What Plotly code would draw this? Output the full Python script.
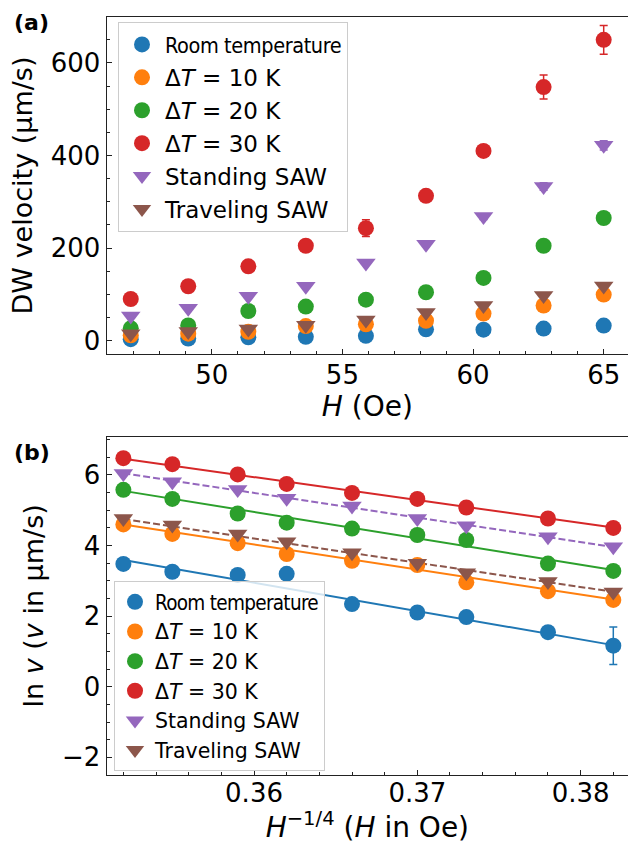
import numpy as np
import plotly.graph_objects as go

# ---------------- data ----------------
H = [46.9, 49.1, 51.4, 53.6, 55.9, 58.2, 60.4, 62.7, 65.0]          # Oe (panel a)
Hinv = [0.382, 0.378, 0.373, 0.370, 0.366, 0.362, 0.359, 0.355, 0.352]  # H^-1/4 (panel b)

COND_FAM = "font-family:'DejaVu Sans Condensed','Liberation Sans Narrow','DejaVu Sans'"
names_a = ["<span style=\"" + COND_FAM + ";font-size:21.5px;letter-spacing:-0.4px\">Room temperature</span>",
           "Δ<i>T</i> = 10 K", "Δ<i>T</i> = 20 K",
           "Δ<i>T</i> = 30 K", "Standing SAW", "Traveling SAW"]
names_b = ["<span style=\"" + COND_FAM + ";letter-spacing:-0.7px\">Room temperature</span>",
           "Δ<i>T</i> = 10 K", "Δ<i>T</i> = 20 K",
           "Δ<i>T</i> = 30 K", "Standing SAW", "Traveling SAW"]

v_room = [3.2, 4.7, 7.2, 8.2, 10.4, 24.5, 23.8, 26.0, 32.5]
v_dt10 = [11.7, 15.0, 19.3, 31.5, 35.5, 43.0, 58.5, 76.0, 99.5]
v_dt20 = [26.6, 32.8, 64.0, 73.7, 88.5, 104.6, 135.5, 205.0, 265.0]
v_dt30 = [90.0, 117.5, 160.5, 205.0, 243.0, 313.0, 410.0, 548.0, 650.0]
v_stand = [53.0, 70.0, 96.0, 117.5, 168.0, 208.5, 268.0, 333.0, 422.0]
v_trav = [14.7, 19.7, 25.3, 33.1, 44.7, 61.0, 76.0, 97.5, 118.0]

e_room = [1.7, 0.3, 0.3, 0.3, 0.4, 0.8, 0.8, 0.8, 1.0]
e_dt10 = [0.5, 0.5, 0.6, 0.8, 1.0, 1.2, 1.5, 2.0, 2.5]
e_dt20 = [1.0, 1.0, 2.0, 2.0, 2.5, 3.0, 4.0, 5.0, 6.0]
e_dt30 = [3.0, 4.0, 5.0, 6.0, 18.0, 8.0, 10.0, 26.0, 31.0]
e_stand = [2.0, 2.0, 3.0, 3.0, 4.0, 5.0, 6.0, 8.0, 10.0]
e_trav = [0.5, 0.6, 0.8, 1.0, 1.2, 1.5, 2.0, 2.5, 3.0]

# linear fits of ln v vs H^-1/4 (values at the two ends)
fit_x = [0.352, 0.382]
fit_room = [3.59, 1.18]
fit_dt10 = [4.60, 2.47]
fit_dt20 = [5.55, 3.31]
fit_dt30 = [6.46, 4.51]
fit_stand = [6.05, 3.96]
fit_trav = [4.75, 2.69]

colors = ["#1f77b4", "#ff7f0e", "#2ca02c", "#d62728", "#9467bd", "#8c564b"]
symbols = ["circle", "circle", "circle", "circle", "triangle-down", "triangle-down"]
dashes = ["solid", "solid", "solid", "solid", "7px,3px", "7px,3px"]

V = [v_room, v_dt10, v_dt20, v_dt30, v_stand, v_trav]
E = [e_room, e_dt10, e_dt20, e_dt30, e_stand, e_trav]
FITS = [fit_room, fit_dt10, fit_dt20, fit_dt30, fit_stand, fit_trav]

W, Hgt = 628, 844
FONT = "DejaVu Sans"

fig = go.Figure()

# ---------------- panel (a) ----------------
for i in range(6):
    fig.add_trace(go.Scatter(
        x=H, y=V[i], mode="markers", name=names_a[i],
        marker=dict(symbol=symbols[i], color=colors[i],
                    size=16 if symbols[i] == "circle" else 17, line=dict(width=0)),
        error_y=dict(type="data", array=E[i], color=colors[i], thickness=1.5, width=4),
        xaxis="x", yaxis="y", legend="legend",
    ))

# ---------------- panel (b) ----------------
for i in range(6):
    fig.add_trace(go.Scatter(
        x=fit_x, y=FITS[i], mode="lines", showlegend=False,
        line=dict(color=colors[i], width=2, dash=dashes[i]),
        xaxis="x2", yaxis="y2", hoverinfo="skip",
    ))
for i in range(6):
    v = np.array(V[i])
    e = np.array(E[i])
    fig.add_trace(go.Scatter(
        x=Hinv, y=np.log(v), mode="markers", name=names_b[i],
        marker=dict(symbol=symbols[i], color=colors[i],
                    size=16 if symbols[i] == "circle" else 17, line=dict(width=0)),
        error_y=dict(type="data", array=e / v, color=colors[i], thickness=1.5, width=4),
        xaxis="x2", yaxis="y2", legend="legend2",
    ))

axis_common = dict(
    showline=True, linecolor="#222", linewidth=1.3,
    ticks="inside", ticklen=5, tickwidth=1.2, tickcolor="#222",
    showgrid=False, zeroline=False,
    tickfont=dict(family=FONT, size=26, color="black"),
)

x0 = 106.7 / W
fig.update_layout(
    width=W, height=Hgt,
    margin=dict(l=0, r=0, t=0, b=0),
    paper_bgcolor="white", plot_bgcolor="white",
    font=dict(family=FONT, color="black"),
    xaxis=dict(domain=[x0, 1.0], range=[45.98, 65.93], anchor="y",
               dtick=5, tick0=50, mirror=True, ticklabelstandoff=-3,
               minor=dict(ticks="inside", ticklen=3, dtick=1, tick0=50, tickcolor="#222"),
               title=dict(text="<i>H</i> (Oe)", font=dict(family=FONT, size=28), standoff=0),
               **axis_common),
    yaxis=dict(domain=[1 - 354.3 / Hgt, 1 - 16.7 / Hgt], range=[-29.5, 700], anchor="x",
               dtick=200, tick0=0,
               minor=dict(ticks="inside", ticklen=3, dtick=50, tick0=0, tickcolor="#222"),
               title=dict(text="DW velocity (μm/s)", font=dict(family=FONT, size=27), standoff=10),
               **axis_common),
    xaxis2=dict(domain=[x0, 1.0], range=[0.35098, 0.3829], anchor="y2",
                dtick=0.01, tick0=0.36, mirror=True, tickformat=".2f", ticklabelstandoff=-5,
                minor=dict(ticks="inside", ticklen=3, dtick=0.002, tick0=0.36, tickcolor="#222"),
                title=dict(text="<i>H</i><sup>−1/4</sup> (<i>H</i> in Oe)",
                           font=dict(family=FONT, size=28), standoff=0),
                **axis_common),
    yaxis2=dict(domain=[1 - 775 / Hgt, 1 - 436.7 / Hgt], range=[-2.5, 7.085], anchor="x2",
                dtick=2, tick0=0,
                minor=dict(ticks="inside", ticklen=3, dtick=0.5, tick0=0, tickcolor="#222"),
                title=dict(text="ln <i>v</i> (<i>v</i> in μm/s)", font=dict(family=FONT, size=27), standoff=10),
                **axis_common),
    legend=dict(x=118 / W, y=1 - 22 / Hgt, xanchor="left", yanchor="top",
                bgcolor="rgba(255,255,255,0.8)", bordercolor="#cccccc", borderwidth=1,
                font=dict(family=FONT, size=23, color="black"), tracegroupgap=0,
                itemwidth=36),
    legend2=dict(x=114 / W, y=1 - 581 / Hgt, xanchor="left", yanchor="top",
                 bgcolor="rgba(255,255,255,0.8)", bordercolor="#cccccc", borderwidth=1,
                 font=dict(family=FONT, size=20.5, color="black"), tracegroupgap=0,
                 itemwidth=30),
    showlegend=True,
    annotations=[
        dict(text="<b>(a)</b>", x=12 / W, y=1 - 22.5 / Hgt, xref="paper", yref="paper",
             xanchor="left", yanchor="middle", showarrow=False,
             font=dict(family=FONT, size=22, color="black")),
        dict(text="<b>(b)</b>", x=12 / W, y=1 - 452 / Hgt, xref="paper", yref="paper",
             xanchor="left", yanchor="middle", showarrow=False,
             font=dict(family=FONT, size=22, color="black")),
    ],
)

fig.write_html("out.html")
